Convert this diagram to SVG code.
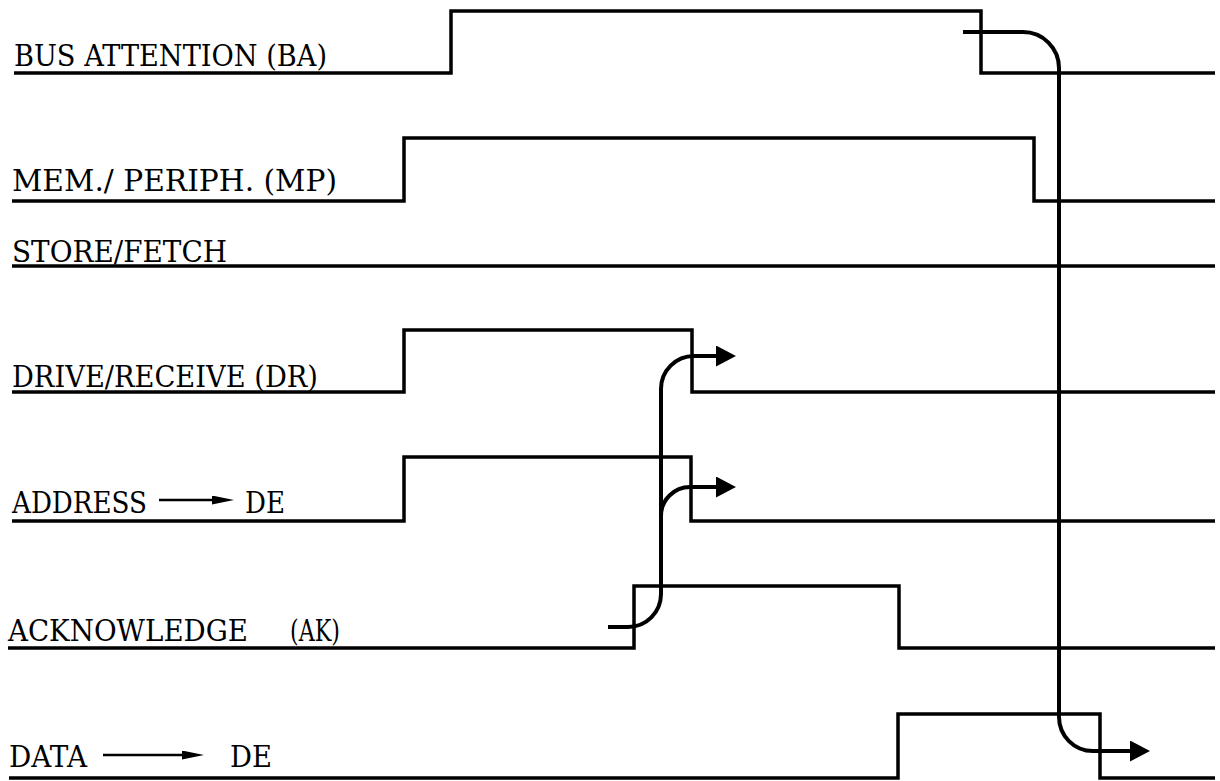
<svg xmlns="http://www.w3.org/2000/svg" width="1220" height="781" viewBox="0 0 1220 781">
<style>
.sig{fill:none;stroke:#000;stroke-width:3.5;stroke-linejoin:miter}
.con{fill:none;stroke:#000;stroke-width:4}
.lbl{font-family:"DejaVu Serif","Liberation Serif",serif;font-size:29px;fill:#000}
.small{fill:none;stroke:#000;stroke-width:2.5}
</style>
<defs>
<marker id="ah" viewBox="0 0 20 21" refX="0" refY="10.5" markerWidth="20" markerHeight="21" markerUnits="userSpaceOnUse" orient="auto">
<path d="M0,0 L20,10.5 L0,21 z" fill="#000"/>
</marker>
<marker id="sa" viewBox="0 0 22 9" refX="0" refY="4.5" markerWidth="22" markerHeight="9" markerUnits="userSpaceOnUse" orient="auto">
<path d="M0,0 L22,4.5 L0,9 z" fill="#000"/>
</marker>
</defs>
<rect width="1220" height="781" fill="#fff"/>
<g id="ba">
<text class="lbl" x="14" y="66" textLength="313" lengthAdjust="spacingAndGlyphs">BUS ATTENTION  (BA)</text>
<path class="sig" d="M14,73 H451 V11 H981 V73 H1215"/>
</g>
<g id="mp">
<text class="lbl" x="12" y="191" textLength="325" lengthAdjust="spacingAndGlyphs">MEM./ PERIPH.  (MP)</text>
<path class="sig" d="M12,201 H404 V138 H1034 V201 H1215"/>
</g>
<g id="sf">
<text class="lbl" x="12" y="262" textLength="215" lengthAdjust="spacingAndGlyphs">STORE/FETCH</text>
<path class="sig" d="M12,266 H1215"/>
</g>
<g id="dr">
<text class="lbl" x="12" y="387" textLength="306" lengthAdjust="spacingAndGlyphs">DRIVE/RECEIVE  (DR)</text>
<path class="sig" d="M12,392 H404 V330 H692 V392 H1215"/>
</g>
<g id="addr">
<text class="lbl" x="12" y="513" textLength="135" lengthAdjust="spacingAndGlyphs">ADDRESS</text>
<path class="small" d="M159,500 H212" marker-end="url(#sa)"/>
<text class="lbl" x="245" y="513" textLength="40" lengthAdjust="spacingAndGlyphs">DE</text>
<path class="sig" d="M12,521 H404 V457 H691 V521 H1215"/>
</g>
<g id="ak">
<text class="lbl" x="8" y="641" textLength="240" lengthAdjust="spacingAndGlyphs">ACKNOWLEDGE</text>
<text class="lbl" x="290" y="641" textLength="50" lengthAdjust="spacingAndGlyphs">(AK)</text>
<path class="sig" d="M8,648 H634 V586 H899 V648 H1215"/>
</g>
<g id="data">
<text class="lbl" x="9" y="767" textLength="78" lengthAdjust="spacingAndGlyphs">DATA</text>
<path class="small" d="M103,755 H182" marker-end="url(#sa)"/>
<text class="lbl" x="230" y="767" textLength="42" lengthAdjust="spacingAndGlyphs">DE</text>
<path class="sig" d="M9,778 H898 V714 H1100 V778 H1215"/>
</g>
<g id="connectors">
<path class="con" d="M608,627 H628 A33,33 0 0 0 661,594 V389 A33,33 0 0 1 694,356 H716" marker-end="url(#ah)"/>
<path class="con" d="M661,516 A29,29 0 0 1 690,487 H716" marker-end="url(#ah)"/>
<path class="con" d="M963,32 H1023 A36,36 0 0 1 1059,68 V717 A34,34 0 0 0 1093,751 H1130" marker-end="url(#ah)"/>
</g>
</svg>
